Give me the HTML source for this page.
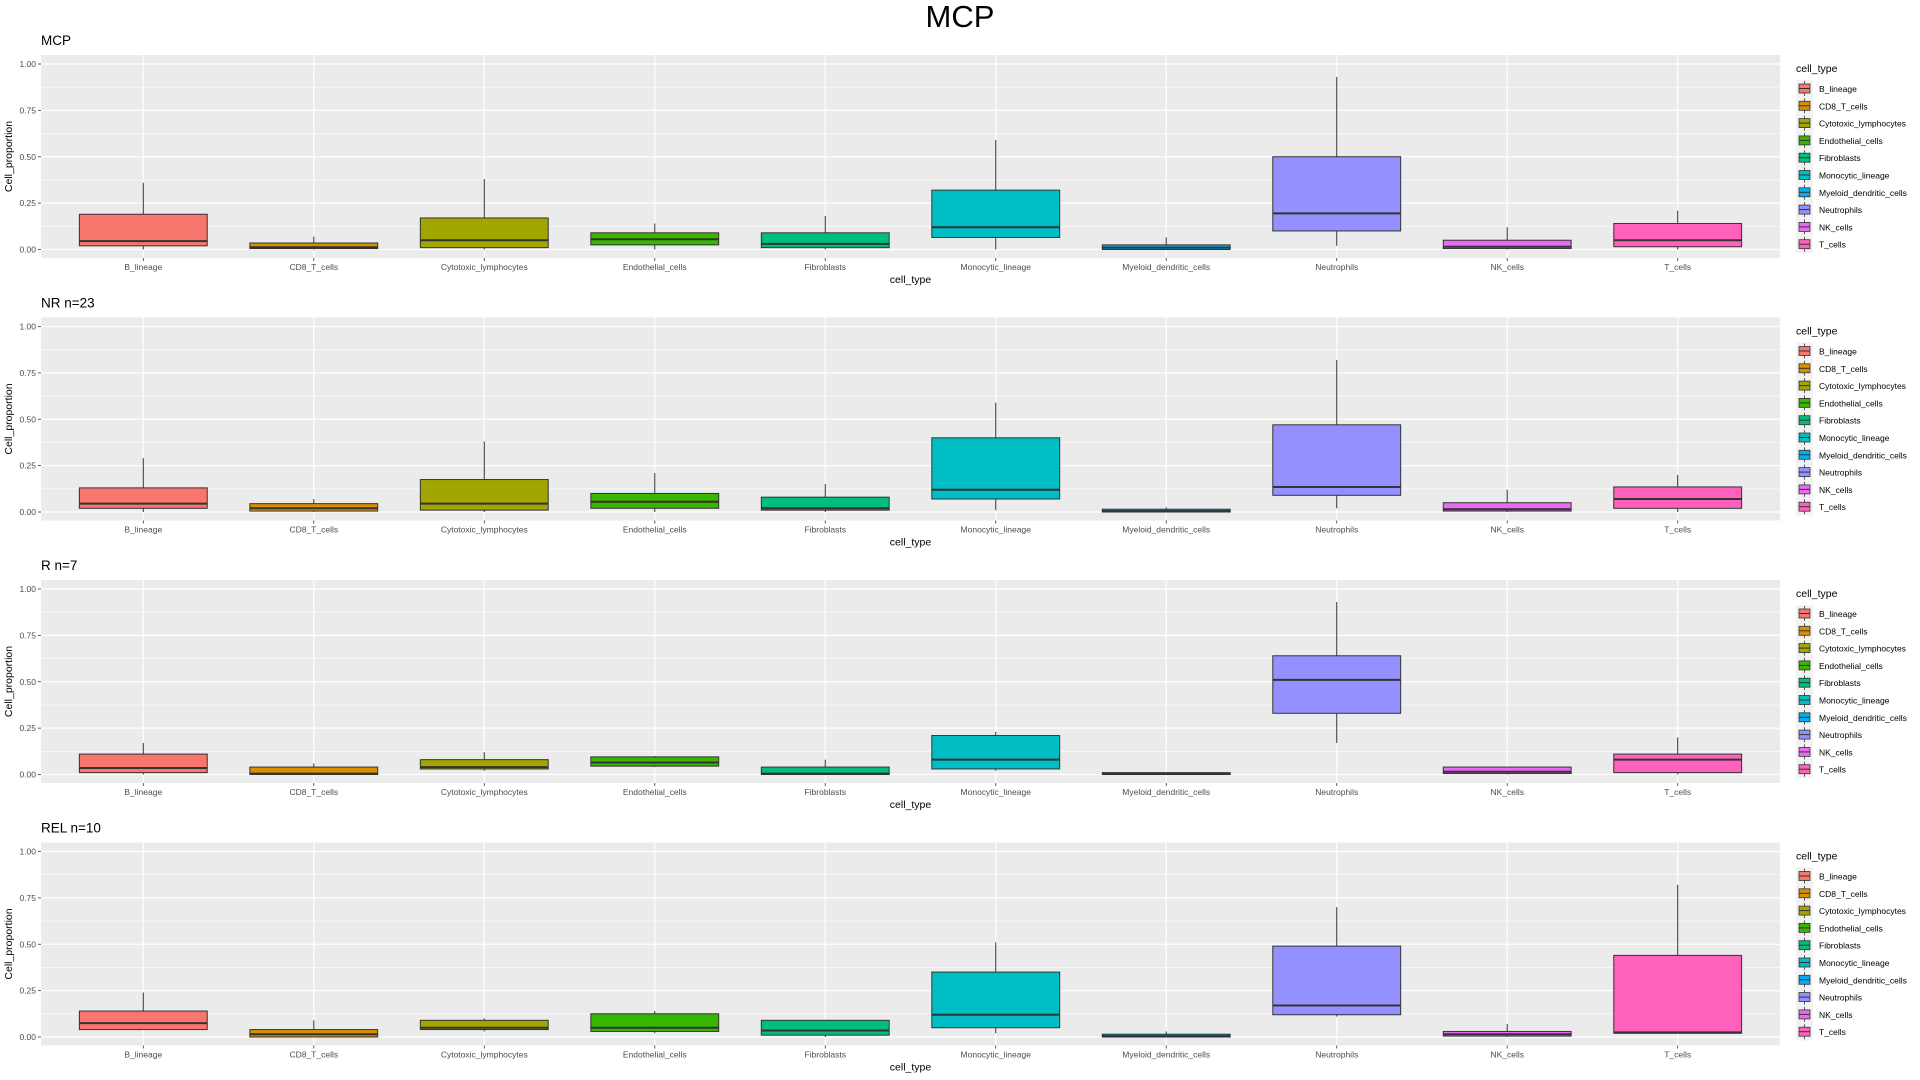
<!DOCTYPE html>
<html><head><meta charset="utf-8"><style>
html,body{margin:0;padding:0;background:#fff}
svg{display:block;font-family:"Liberation Sans",sans-serif}
</style></head><body>
<svg id="c" width="1920" height="1080" viewBox="0 0 1920 1080">
<text x="960" y="27" text-anchor="middle" font-size="31" fill="#000">MCP</text>
</svg>
<script>
const categories=["B_lineage","CD8_T_cells","Cytotoxic_lymphocytes","Endothelial_cells","Fibroblasts","Monocytic_lineage","Myeloid_dendritic_cells","Neutrophils","NK_cells","T_cells"];
const colors=["#F8766D","#D89000","#A3A500","#39B600","#00BF7D","#00BFC4","#00B0F6","#9590FF","#E76BF3","#FF62BC"];
const panelTitles=["MCP","NR n=23","R n=7","REL n=10"];
const yTicks=[0,0.25,0.5,0.75,1];
const yTickLabels=["0.00","0.25","0.50","0.75","1.00"];
// each: [lower whisker, q1, median, q3, upper whisker]
const statsMCP=[[0,.02,.045,.19,.36],[0,.005,.012,.035,.07],[0,.01,.05,.17,.38],[0,.025,.055,.09,.14],[0,.01,.03,.09,.18],[0,.065,.12,.32,.59],[0,0,.01,.025,.065],[.02,.10,.195,.50,.93],[0,.005,.015,.05,.12],[0,.015,.05,.14,.21]];
const statsNR=[[0,.02,.045,.13,.29],[0,.005,.02,.045,.07],[0,.01,.045,.175,.38],[0,.02,.055,.10,.21],[0,.01,.02,.08,.15],[.01,.07,.12,.40,.59],[0,0,.005,.015,.025],[.02,.09,.135,.47,.82],[0,.005,.015,.05,.12],[0,.02,.07,.135,.20]];
const statsR=[[0,.01,.035,.11,.17],[0,0,.005,.04,.06],[.02,.03,.04,.08,.12],[.04,.045,.065,.095,.10],[0,0,.005,.04,.08],[.02,.03,.08,.21,.23],[0,0,.005,.01,.01],[.17,.33,.51,.64,.93],[0,.005,.015,.04,.04],[0,.01,.08,.11,.20]];
const statsREL=[[.04,.04,.075,.14,.24],[0,0,.015,.04,.09],[.03,.04,.05,.09,.10],[.02,.03,.05,.125,.14],[0,.01,.035,.09,.09],[.02,.05,.12,.35,.51],[0,0,.005,.015,.03],[.11,.12,.17,.49,.70],[0,.005,.015,.03,.07],[.02,.02,.025,.44,.82]];
const allStats=[statsMCP,statsNR,statsR,statsREL];

const NS="http://www.w3.org/2000/svg";
const svg=document.getElementById('c');
function mk(tag,attrs,parent,text){const e=document.createElementNS(NS,tag);for(const k in attrs)e.setAttribute(k,attrs[k]);if(text!==undefined)e.textContent=text;parent.appendChild(e);return e;}
const L=41,R=1780,unit=(R-L)/(categories.length-1+1.2);
function xScale(i){return L+(0.6+i)*unit;}
allStats.forEach((stats,p)=>{
  const off=p*262.5, top=55+off, bot=258+off;
  const y0=249.5+off, y1=64+off;
  const yScale=v=>y0-(y0-y1)*v;
  const g=mk('g',{},svg);
  
  
  const t=mk('text',{x:L,y:top-10,'font-size':13.5,fill:'#000'},g,panelTitles[p]);
  
  
  const bg=mk('rect',{x:L,y:top,width:R-L,height:bot-top,fill:'#EBEBEB'},g);
  
  
  for(let k=0;k<4;k++){const v=0.125+k*0.25;mk('line',{x1:L,x2:R,y1:yScale(v),y2:yScale(v),stroke:'#fff','stroke-width':0.6},g);}
  yTicks.forEach((v,k)=>{
    mk('line',{x1:L,x2:R,y1:yScale(v),y2:yScale(v),stroke:'#fff','stroke-width':1.2},g);
    mk('line',{x1:L-3,x2:L,y1:yScale(v),y2:yScale(v),stroke:'#333','stroke-width':0.8},g);
    const tl=mk('text',{x:L-5,y:yScale(v)+3,'font-size':8.5,fill:'#4D4D4D','text-anchor':'end'},g,yTickLabels[k]);
    
    
  });
  categories.forEach((c,i)=>{
    const x=xScale(i);
    mk('line',{x1:x,x2:x,y1:top,y2:bot,stroke:'#fff','stroke-width':1.2},g);
    mk('line',{x1:x,x2:x,y1:bot,y2:bot+3,stroke:'#333','stroke-width':0.8},g);
    const xl=mk('text',{x:x,y:bot+12,'font-size':8.5,fill:'#4D4D4D','text-anchor':'middle'},g,c);
    
    
  });
  stats.forEach((s,i)=>{
    const x=xScale(i),w=0.75*unit;
    const bg2=mk('g',{},g);
    
    
    mk('line',{x1:x,x2:x,y1:yScale(s[0]),y2:yScale(s[4]),stroke:'#333','stroke-width':1},bg2);
    mk('rect',{x:x-w/2,y:yScale(s[3]),width:w,height:Math.max(0.5,yScale(s[1])-yScale(s[3])),fill:colors[i],stroke:'#333','stroke-width':1},bg2);
    mk('line',{x1:x-w/2,x2:x+w/2,y1:yScale(s[2]),y2:yScale(s[2]),stroke:'#333','stroke-width':2},bg2);
  });
  const yt=mk('text',{x:0,y:0,'font-size':10.5,fill:'#000','text-anchor':'middle',transform:`translate(12,${(top+bot)/2}) rotate(-90)`},g,'Cell_proportion');
  
  
  const xt=mk('text',{x:(L+R)/2,y:bot+25,'font-size':10.5,fill:'#000','text-anchor':'middle'},g,'cell_type');
  
  
  const lg=mk('g',{},g);
  
  
  mk('text',{x:1796,y:72+off,'font-size':10.5,fill:'#000'},lg,'cell_type');
  categories.forEach((c,i)=>{
    const ky=80+off+i*17.3;
    const e=mk('g',{},lg);
    
    
    mk('rect',{x:1796,y:ky,width:17,height:17.3,fill:'#F2F2F2'},e);
    mk('line',{x1:1804.5,x2:1804.5,y1:ky+1,y2:ky+16,stroke:'#333','stroke-width':0.8},e);
    mk('rect',{x:1799,y:ky+4,width:11,height:9,fill:colors[i],stroke:'#333','stroke-width':0.8},e);
    mk('line',{x1:1799,x2:1810,y1:ky+8.5,y2:ky+8.5,stroke:'#333','stroke-width':1},e);
    mk('text',{x:1819,y:ky+12,'font-size':8.5,fill:'#000'},e,c);
  });
});
</script>
</body></html>
